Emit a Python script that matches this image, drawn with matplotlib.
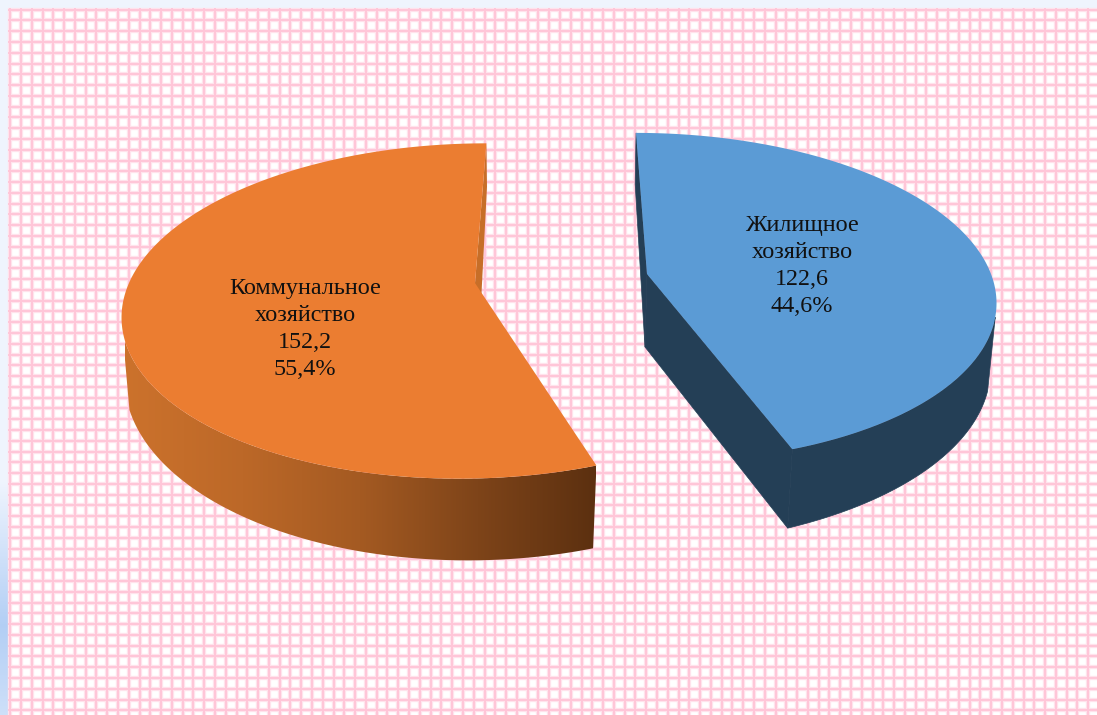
import numpy as np
import matplotlib
matplotlib.use('Agg')
import matplotlib.pyplot as plt
from matplotlib.colors import LinearSegmentedColormap
from matplotlib.patches import Polygon, Rectangle

categories = ['Коммунальное\nхозяйство', 'Жилищное\nхозяйство']
values = [152.2, 122.6]
percent_labels = ['55,4%', '44,6%']

W, H = 1097, 715
total = sum(values)

# projection settings of each face: apex x/y, rx, ry, perspective k and m, shear s
orange_top = dict(ax=475, ay=283, rx=346, ry=163, k=0.167, m=0, s=13.3)
orange_bot = dict(ax=478, ay=361, rx=352, ry=186, k=0.067, m=0, s=9.6)
blue_top = dict(ax=647, ay=274, rx=344, ry=161, k=0.141, m=0, s=-12.5)
blue_bot = dict(ax=645, ay=347, rx=370, ry=179, k=0.1, m=0.08, s=-10.8)


def project(p, deg):
    t = np.radians(deg)
    u, v = np.cos(t), np.sin(t)
    w = 1 + p['k'] * v + p['m'] * u
    return np.column_stack([p['ax'] + (p['rx'] * u + p['s'] * v) / w,
                            p['ay'] - p['ry'] * v / w])


def apex(p):
    return np.array([[p['ax'], p['ay']]])


fig = plt.figure(figsize=(W / 100, H / 100), dpi=100)
ax = fig.add_axes([0, 0, 1, 1])
ax.set_xlim(0, W)
ax.set_ylim(H, 0)
ax.axis('off')

# page background, pale blue with stronger blue low on the left
bg = np.ones((H, W, 3)) * np.array([0.94, 0.96, 0.995])
ys = np.arange(H)
tint = np.interp(ys, [480, 625, 715], [0.0, 1.0, 0.55])
for c, target in enumerate([0.70, 0.81, 0.96]):
    bg[:, :, c] = bg[:, :, c] + (target - bg[:, :, c]) * tint[:, None]
ax.imshow(bg, extent=(0, W, H, 0), aspect='auto', zorder=0)

# pink checked panel
ax.add_patch(Rectangle((8, 8), W - 8, H - 8, fc='white', ec='none', zorder=1))
for x in np.arange(10.2, W, 10.78):
    ax.plot([x, x], [8, H], color='#FFE3EC', lw=3.1, zorder=2, solid_capstyle='butt')
for y in np.arange(9.6, H, 10.78):
    ax.plot([8, W], [y, y], color='#FFE3EC', lw=3.1, zorder=2, solid_capstyle='butt')
for x in np.arange(10.2, W, 10.78):
    ax.plot([x, x], [8, H], color='#FFC6D8', lw=1.4, zorder=3, solid_capstyle='butt')
for y in np.arange(9.6, H, 10.78):
    ax.plot([8, W], [y, y], color='#FFC6D8', lw=1.4, zorder=3, solid_capstyle='butt')

# slice spans from the values, both hanging from 12 o'clock
orange_end = 90 + 360 * values[0] / total
blue_end = 90 - 360 * values[1] / total

# orange: side wall with gradient, cut faces, then top
angles = np.linspace(orange_end, 195, 200)
wall = np.vstack([project(orange_top, angles), project(orange_bot, angles[::-1])])
grad = LinearSegmentedColormap.from_list('wall', ['#CC722C', '#BC6828', '#A45A22', '#7E4419', '#5C3010'])
img = ax.imshow(np.linspace(0, 1, 256)[None, :], extent=(125, 596, 565, 300), cmap=grad,
                aspect='auto', zorder=5)
img.set_clip_path(Polygon(wall, transform=ax.transData))

back = np.vstack([project(orange_top, [90]), project(orange_bot, [90]), apex(orange_bot), apex(orange_top)])
ax.add_patch(Polygon(back, fc='#C76E28', ec='none', zorder=4))
a = np.linspace(90, orange_end, 400)
ax.add_patch(Polygon(np.vstack([apex(orange_top), project(orange_top, a)]), fc='#EB7D31', ec='none', zorder=6))

# blue: everything below the top is one dark colour
a = np.linspace(90, blue_end, 400)
cut1 = np.vstack([project(blue_top, [90]), project(blue_bot, [90]), apex(blue_bot), apex(blue_top)])
cut2 = np.vstack([apex(blue_top), apex(blue_bot), project(blue_bot, [blue_end]), project(blue_top, [blue_end])])
angles = np.linspace(blue_end, -15, 200)
wall = np.vstack([project(blue_top, angles), project(blue_bot, angles[::-1])])
for poly in (cut1, cut2, wall):
    ax.add_patch(Polygon(poly, fc='#243F56', ec='#243F56', lw=0.5, zorder=4))
ax.add_patch(Polygon(np.vstack([apex(blue_top), project(blue_top, a)]), fc='#5B9BD5', ec='none', zorder=6))

# labels
label_pos = [(305, 329), (802, 266)]
for name, val, pct, (lx, ly) in zip(categories, values, percent_labels, label_pos):
    txt = name + '\n' + str(val).replace('.', ',') + '\n' + pct
    ax.text(lx, ly, txt, family='Liberation Serif', fontsize=17.4, color='#111111', ha='center',
            va='center', linespacing=1.39, zorder=8)

fig.savefig('out.png', dpi=100)
